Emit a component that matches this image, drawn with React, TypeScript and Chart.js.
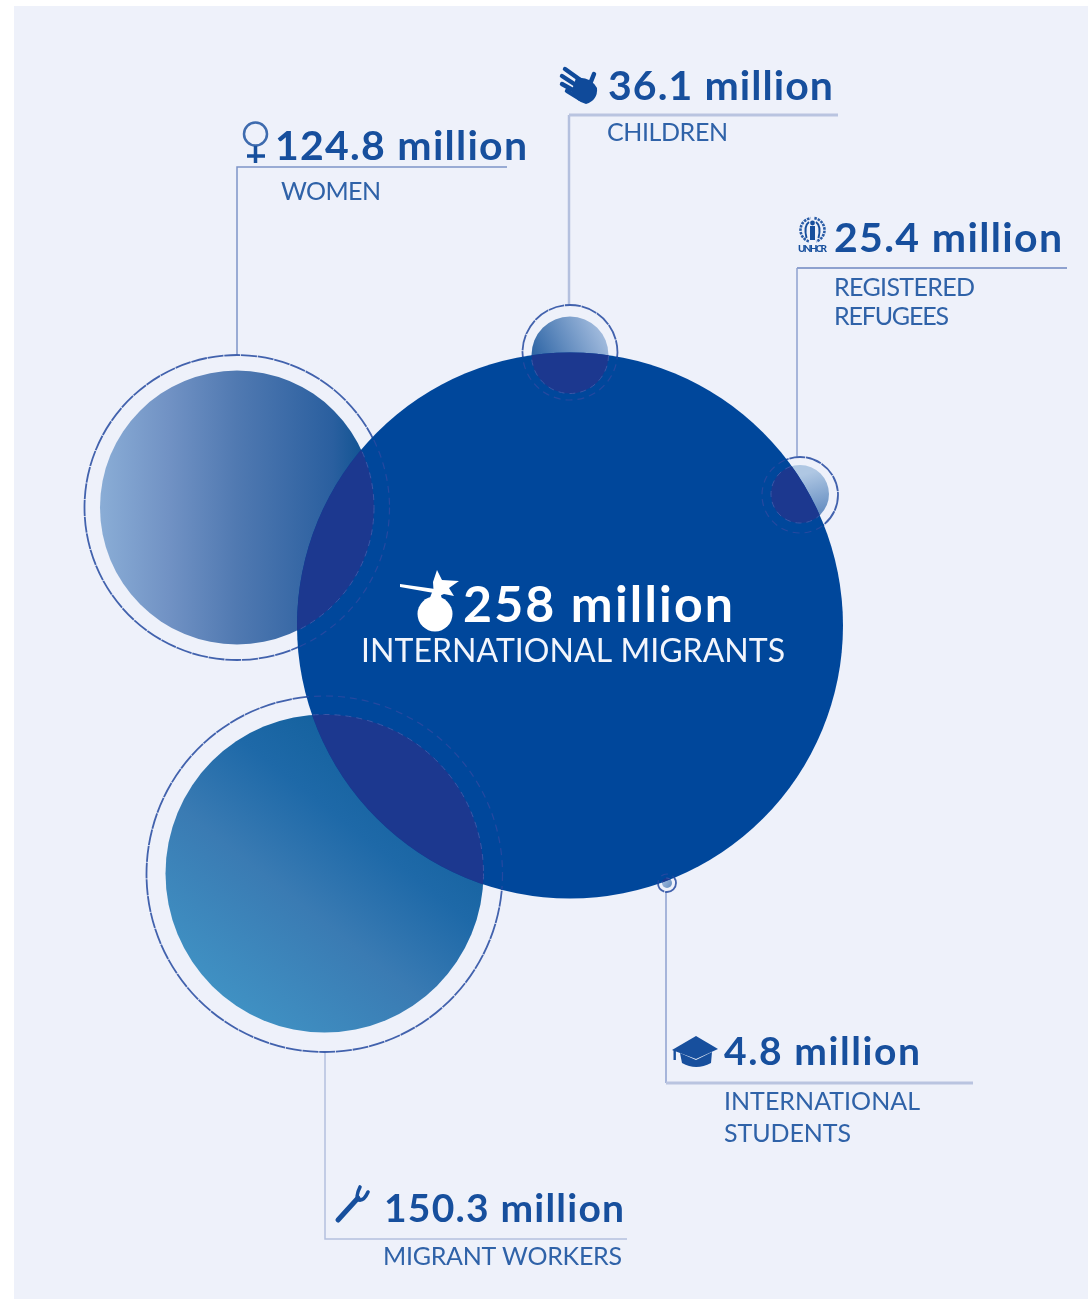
import React, { useEffect, useRef } from "react";
import { Chart, registerables } from "chart.js";

Chart.register(...registerables);

// ---- data ----
const categories = ["INTERNATIONAL MIGRANTS", "WOMEN", "MIGRANT WORKERS", "CHILDREN", "REGISTERED REFUGEES", "INTERNATIONAL STUDENTS"];
const millions = [258, 124.8, 150.3, 36.1, 25.4, 4.8];
const bubbleX = [570, 237, 324.5, 570, 800, 667];
const bubbleY = [625.5, 507.5, 873.5, 355, 494, 883];
const bubbleR = [273, 137, 159, 38.5, 29, 5];
const ringR = [0, 152.5, 178, 47.5, 38, 9];
const ringY = [625.5, 507.5, 874, 352.5, 495, 883];
const leaderElbowX = [0, 237, 325, 569, 797, 666];
const leaderElbowY = [0, 167, 1239, 115, 268, 1083];
const leaderEndX = [0, 507, 627, 838, 1067, 973];

const W = 1088;
const H = 1300;
const FONT = "Lato, 'Open Sans', sans-serif";
const BLUE = "#174F9D";
const LABEL = "#2F62A8";

type Fill = [number, number, number, number, [number, string][]];
const gradients: (Fill | null)[] = [
  null,
  [100, 0, 374, 0, [[0, "#8AADD6"], [0.25, "#7192C4"], [0.5, "#5079B1"], [0.85, "#2A5F9F"], [1, "#08508F"]]],
  [215, 1000, 425, 735, [[0, "#4092C4"], [0.38, "#3A7BB3"], [0.65, "#1E69A8"], [1, "#0E5C98"]]],
  [535, 358, 600, 325, [[0, "#2F66A6"], [1, "#A3BCDE"]]],
  [812, 472, 826, 518, [[0, "#AFC7E3"], [1, "#5A85BC"]]],
  [660, 878, 674, 888, [[0, "#AFC7E3"], [1, "#5A85BC"]]],
];
const vLeader = ["", "#7E94C7", "#B4C0DE", "#B4C0DE", "#8EA1CF", "#8EA1CF"];
const hLeader = ["", "#7E94C7", "#B4C0DE", "#B9C4E0", "#8EA1CF", "#B9C4E0"];
const hWidth = [0, 1.5, 1.5, 3, 2, 3];
const vWidth = [0, 1.5, 1.5, 2.5, 1.5, 1.5];

const idx = [1, 2, 3, 4, 5];

const fitText = (c: CanvasRenderingContext2D, t: string, x: number, y: number, width: number, font: string, color: string) => {
  c.font = font;
  (c as any).letterSpacing = "0px";
  const natural = c.measureText(t).width;
  (c as any).letterSpacing = ((width - natural) / (t.length - 1)).toFixed(3) + "px";
  c.fillStyle = color;
  c.textAlign = "left";
  c.textBaseline = "alphabetic";
  c.fillText(t, x, y);
  (c as any).letterSpacing = "0px";
};

const female = (c: CanvasRenderingContext2D) => {
  c.strokeStyle = "#3E6BAE";
  c.lineWidth = 2.5;
  c.beginPath();
  c.arc(255.5, 134, 11.5, 0, Math.PI * 2);
  c.stroke();
  c.strokeStyle = "#174F9D";
  c.lineWidth = 3.5;
  c.beginPath();
  c.moveTo(255.5, 146);
  c.lineTo(255.5, 163);
  c.moveTo(247, 156);
  c.lineTo(265, 156);
  c.stroke();
};

const hand = (c: CanvasRenderingContext2D) => {
  c.strokeStyle = "#0F4A9A";
  c.fillStyle = "#0F4A9A";
  c.lineCap = "round";
  c.lineWidth = 4.4;
  const fingers = [
    [565, 69, 586, 84],
    [562, 76, 582, 89],
    [562, 84, 580, 94],
    [567, 91, 580, 99],
  ];
  fingers.forEach(([a, b, d, e]) => {
    c.beginPath();
    c.moveTo(a, b);
    c.lineTo(d, e);
    c.stroke();
  });
  c.lineWidth = 4.5;
  c.beginPath();
  c.moveTo(594, 74);
  c.lineTo(590, 84);
  c.stroke();
  c.beginPath();
  c.moveTo(576, 78);
  c.quadraticCurveTo(590, 76, 597, 88);
  c.quadraticCurveTo(598, 100, 586, 104);
  c.quadraticCurveTo(576, 102, 572, 90);
  c.closePath();
  c.fill();
  c.lineCap = "butt";
};

const unhcr = (c: CanvasRenderingContext2D) => {
  c.strokeStyle = "#2A5CA6";
  c.lineWidth = 2.6;
  c.setLineDash([2.5, 1]);
  c.beginPath();
  c.arc(812.5, 230, 12, Math.PI * 0.6, Math.PI * 1.45);
  c.stroke();
  c.beginPath();
  c.arc(812.5, 230, 12, -Math.PI * 0.45, Math.PI * 0.4);
  c.stroke();
  c.setLineDash([]);
  c.fillStyle = "#174F9D";
  c.beginPath();
  c.arc(812.5, 223, 2.4, 0, Math.PI * 2);
  c.fill();
  c.fillRect(810, 226, 5, 14);
  c.lineWidth = 2;
  c.strokeStyle = "#174F9D";
  c.beginPath();
  c.moveTo(806.5, 238);
  c.quadraticCurveTo(803.5, 226, 809, 222);
  c.moveTo(818.5, 238);
  c.quadraticCurveTo(821.5, 226, 816, 222);
  c.stroke();
  fitText(c, "UNHCR", 798, 252, 29, `900 10px ${FONT}`, "#174F9D");
};

const cap = (c: CanvasRenderingContext2D) => {
  c.fillStyle = "#174F9D";
  c.beginPath();
  c.moveTo(672, 1050);
  c.lineTo(696, 1036);
  c.lineTo(718, 1049);
  c.lineTo(696, 1059);
  c.closePath();
  c.fill();
  c.beginPath();
  c.moveTo(680, 1053);
  c.lineTo(696, 1060);
  c.lineTo(712, 1052);
  c.lineTo(711, 1063);
  c.quadraticCurveTo(696, 1071, 682, 1063);
  c.closePath();
  c.fill();
  c.fillRect(673.5, 1050, 2.4, 10);
};

const wrench = (c: CanvasRenderingContext2D) => {
  c.strokeStyle = "#174F9D";
  c.lineCap = "round";
  c.lineWidth = 5;
  c.beginPath();
  c.moveTo(338, 1220);
  c.lineTo(358, 1198);
  c.stroke();
  c.lineWidth = 3.6;
  c.beginPath();
  c.moveTo(360, 1187);
  c.quadraticCurveTo(355, 1197, 359, 1200);
  c.quadraticCurveTo(364, 1201, 368, 1192);
  c.stroke();
  c.lineCap = "butt";
};

const bundle = (c: CanvasRenderingContext2D) => {
  c.fillStyle = "#FFFFFF";
  c.beginPath();
  c.arc(435, 614, 17.5, 0, Math.PI * 2);
  c.fill();
  c.beginPath();
  c.moveTo(429, 600);
  c.lineTo(442, 600);
  c.lineTo(440, 590);
  c.lineTo(433, 590);
  c.closePath();
  c.fill();
  c.beginPath();
  c.moveTo(400, 584);
  c.lineTo(435, 589);
  c.lineTo(434, 593);
  c.lineTo(400, 587);
  c.closePath();
  c.fill();
  c.beginPath();
  c.moveTo(437, 570);
  c.lineTo(442, 580);
  c.lineTo(459, 581);
  c.lineTo(449, 588);
  c.lineTo(454, 596);
  c.lineTo(444, 594);
  c.lineTo(434, 598);
  c.lineTo(433, 582);
  c.closePath();
  c.fill();
};

const overlay = {
  id: "overlay",
  beforeDraw(chart: any) {
    const c = chart.ctx;
    c.save();
    c.fillStyle = "#FFFFFF";
    c.fillRect(0, 0, W, H);
    c.fillStyle = "#EEF1FA";
    c.fillRect(14, 6, W - 14, 1293);
    c.restore();
  },
  beforeDatasetDraw(chart: any, args: any) {
    const ds = chart.data.datasets[args.index];
    const c = chart.ctx;
    c.save();
    if (ds.clipMain) {
      const x = chart.scales.x.getPixelForValue(bubbleX[0]);
      const y = chart.scales.y.getPixelForValue(bubbleY[0]);
      c.beginPath();
      c.arc(x, y, bubbleR[0], 0, Math.PI * 2);
      c.clip();
    }
    if (ds.dash) c.setLineDash(ds.dash);
  },
  afterDatasetDraw(chart: any) {
    chart.ctx.restore();
  },
  afterDraw(chart: any) {
    const c: CanvasRenderingContext2D = chart.ctx;
    c.save();
    const num = (i: number) => `${millions[i]} million`;
    fitText(c, num(1), 275, 160, 252, `bold 41px ${FONT}`, BLUE);
    fitText(c, num(3), 608, 100, 225, `bold 41px ${FONT}`, BLUE);
    fitText(c, num(4), 834, 252, 228, `bold 41px ${FONT}`, BLUE);
    fitText(c, num(5), 724, 1065, 196, `bold 39px ${FONT}`, BLUE);
    fitText(c, num(2), 384, 1222, 240, `bold 39px ${FONT}`, BLUE);
    fitText(c, num(0), 463, 622, 270, `bold 50px ${FONT}`, "#FFFFFF");
    fitText(c, categories[0], 361, 662, 424, `32px ${FONT}`, "#F2F5FC");
    fitText(c, categories[1], 281, 200, 100, `25px ${FONT}`, LABEL);
    fitText(c, categories[3], 607, 141, 121, `25px ${FONT}`, LABEL);
    const [reg, ref] = categories[4].split(" ");
    fitText(c, reg, 834, 296, 141, `25px ${FONT}`, LABEL);
    fitText(c, ref, 834, 325, 115, `25px ${FONT}`, LABEL);
    const [intl, stu] = categories[5].split(" ");
    fitText(c, intl, 724, 1110, 196, `25px ${FONT}`, LABEL);
    fitText(c, stu, 724, 1142, 127, `25px ${FONT}`, LABEL);
    fitText(c, categories[2], 383, 1265, 239, `25px ${FONT}`, LABEL);
    female(c);
    hand(c);
    unhcr(c);
    cap(c);
    wrench(c);
    bundle(c);
    c.restore();
  },
};

export default function App() {
  const ref = useRef<HTMLCanvasElement>(null);
  useEffect(() => {
    const leaders: any[] = idx.map((i) => ({
      type: "line",
      order: 7,
      clip: false,
      data: [
        { x: leaderElbowX[i], y: ringY[i] + (leaderElbowY[i] > ringY[i] ? ringR[i] : -ringR[i]) },
        { x: leaderElbowX[i], y: leaderElbowY[i] },
        { x: leaderEndX[i], y: leaderElbowY[i] },
      ],
      pointRadius: 0,
      borderColor: vLeader[i],
      borderWidth: vWidth[i],
      borderJoinStyle: "miter",
      tension: 0,
      fill: false,
      segment: {
        borderColor: (s: any) => (s.p0DataIndex === 0 ? vLeader[i] : hLeader[i]),
        borderWidth: (s: any) => (s.p0DataIndex === 0 ? vWidth[i] : hWidth[i]),
      },
    }));
    const points = idx.map((i) => ({ x: bubbleX[i], y: bubbleY[i], r: bubbleR[i] }));
    const rings = idx.map((i) => ({ x: bubbleX[i], y: ringY[i], r: ringR[i] }));
    const chart = new Chart(ref.current!, {
      type: "bubble",
      plugins: [overlay],
      data: {
        datasets: [
          ...leaders,
          {
            order: 6,
            clip: false,
            dash: [16, 0.8],
            data: rings,
            radius: 0,
            backgroundColor: "rgba(0,0,0,0)",
            borderColor: "#4262AD",
            borderWidth: 1.8,
          },
          {
            order: 5,
            clip: false,
            data: points,
            radius: 0,
            borderWidth: 0,
            backgroundColor: (s: any) => {
              const g = gradients[idx[s.dataIndex]];
              if (!g) return BLUE;
              const lg = s.chart.ctx.createLinearGradient(g[0], g[1], g[2], g[3]);
              g[4].forEach(([o, col]) => lg.addColorStop(o, col));
              return lg;
            },
          },
          {
            order: 4,
            clip: false,
            data: [{ x: bubbleX[0], y: bubbleY[0], r: bubbleR[0] }],
            radius: 0,
            borderWidth: 0,
            backgroundColor: "#00479B",
          },
          {
            order: 3,
            clip: false,
            clipMain: true,
            dash: [6, 5],
            data: points,
            radius: 0,
            backgroundColor: "#1C388F",
            borderColor: "#3C56A6",
            borderWidth: 1,
          },
          {
            order: 2,
            clip: false,
            clipMain: true,
            dash: [7, 5],
            data: rings,
            radius: 0,
            backgroundColor: "rgba(0,0,0,0)",
            borderColor: "#2549A0",
            borderWidth: 1.2,
          },
        ] as any,
      },
      options: {
        animation: false,
        responsive: false,
        events: [],
        layout: { padding: 0, autoPadding: false },
        plugins: { legend: { display: false }, tooltip: { enabled: false } },
        scales: {
          x: { type: "linear", min: 0, max: W, display: false },
          y: { type: "linear", min: 0, max: H, reverse: true, display: false },
        },
      },
    } as any);
    return () => chart.destroy();
  }, []);
  return (
    <div style={{ position: "absolute", left: 0, top: 0, width: W, height: H }}>
      <canvas ref={ref} width={W} height={H} style={{ display: "block" }} />
    </div>
  );
}
